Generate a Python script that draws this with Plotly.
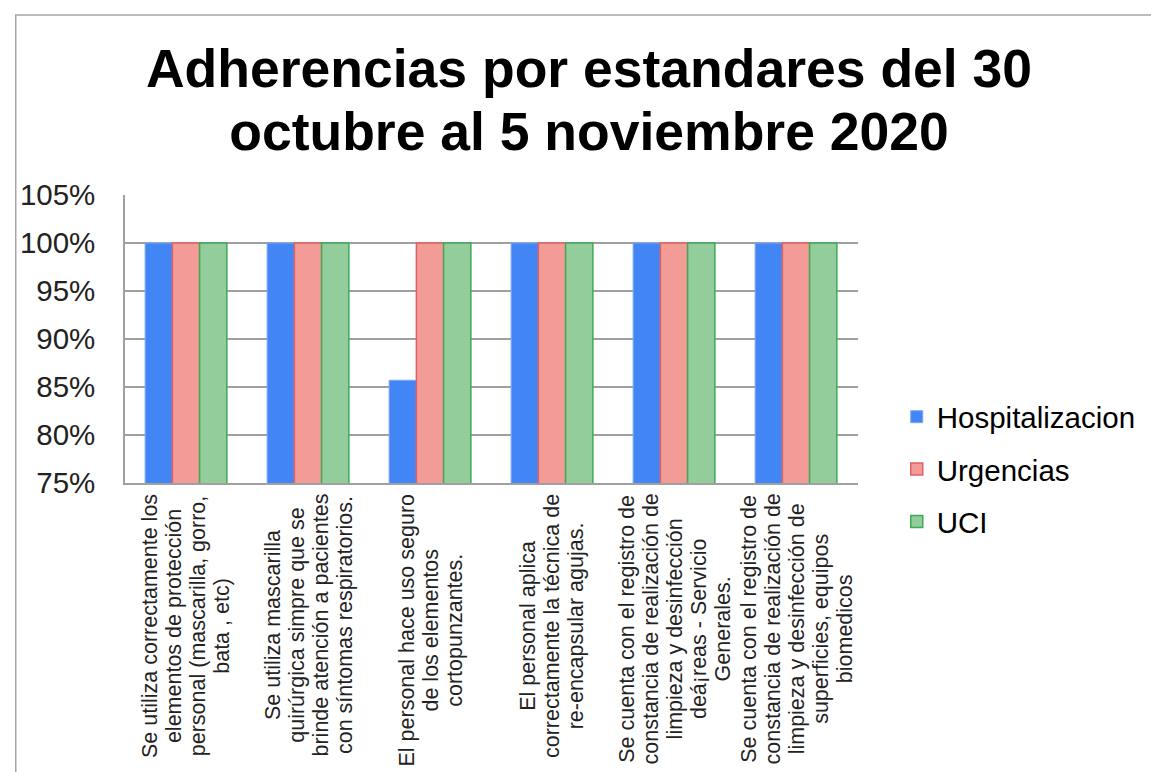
import plotly.graph_objects as go

categories = [
    "Se utiliza correctamente los<br>elementos de protección<br>personal (mascarilla, gorro,<br>bata , etc)",
    "Se utiliza mascarilla<br>quirúrgica simpre que se<br>brinde atención a pacientes<br>con síntomas respiratorios.",
    "El personal hace uso seguro<br>de los elementos<br>cortopunzantes.",
    "El personal aplica<br>correctamente la técnica de<br>re-encapsular agujas.",
    "Se cuenta con el registro de<br>constancia de realización de<br>limpieza y desinfección<br>deá¡reas - Servicio<br>Generales.",
    "Se cuenta con el registro de<br>constancia de realización de<br>limpieza y desinfección de<br>superficies, equipos<br>biomedicos",
]
cat_ids = ["c1", "c2", "c3", "c4", "c5", "c6"]

series_names = ["Hospitalizacion", "Urgencias", "UCI"]
hospitalizacion = [1.0, 1.0, 0.857, 1.0, 1.0, 1.0]
urgencias = [1.0, 1.0, 1.0, 1.0, 1.0, 1.0]
uci = [1.0, 1.0, 1.0, 1.0, 1.0, 1.0]

y_ticks = [0.75, 0.80, 0.85, 0.90, 0.95, 1.00, 1.05]

title_lines = ["Adherencias por estandares del 30", "octubre al 5 noviembre 2020"]

FONT = "Liberation Sans, Arial, sans-serif"


def sized(lines, px):
    return "<br>".join(f'<span style="font-size:{px}px">{t}</span>' for t in lines)


fig = go.Figure()
fig.add_trace(go.Bar(x=cat_ids, y=hospitalizacion, name=series_names[0],
                     marker=dict(color="#4285F4", line=dict(color="#7aa7f7", width=1)),
                     legendgroup="a"))
fig.add_trace(go.Bar(x=cat_ids, y=urgencias, name=series_names[1],
                     marker=dict(color="#F39C97", line=dict(color="#E06060", width=1.5)),
                     legendgroup="b"))
fig.add_trace(go.Bar(x=cat_ids, y=uci, name=series_names[2],
                     marker=dict(color="#93CD9C", line=dict(color="#3DAA55", width=1.5)),
                     legendgroup="c"))

# base font sets the line spacing (1.3em), span sets glyph size
for cid, label in zip(cat_ids, categories):
    fig.add_annotation(x=cid, y=0, xref="x", yref="paper",
                       text=sized(label.split("<br>"), 21.5),
                       textangle=-90, showarrow=False, xanchor="center", yanchor="top",
                       align="center", yshift=-9,
                       font=dict(family=FONT, size=18.5, color="#222222"))

# page body offset of 8px is accounted for
L, R, T, B = 112, 850, 187, 475
W, H = 1151, 764
fig.add_shape(type="rect", xref="paper", yref="paper",
              x0=(2 - L) / (R - L), x1=(1200 - L) / (R - L),
              y0=(B - 800) / (B - T), y1=(B - 7) / (B - T),
              line=dict(color="#a6a6a6", width=1.5), fillcolor="rgba(0,0,0,0)", layer="below")

fig.update_layout(
    width=W, height=H,
    margin=dict(l=L, r=W - R, t=T, b=H - B),
    paper_bgcolor="white", plot_bgcolor="white",
    barmode="group", bargap=0.33, bargroupgap=0,
    title=dict(text=sized(title_lines, 53.5),
               x=581 / W, xanchor="center", y=1 - 79 / H, yanchor="middle",
               yref="container", xref="container",
               font=dict(family=FONT, size=48.5, color="black", weight="bold")),
    legend=dict(x=(889 - L) / (R - L), xanchor="left", y=(B - 383) / (B - T), yanchor="top",
                font=dict(family=FONT, size=29.5, color="black"),
                tracegroupgap=11, itemwidth=30, bgcolor="rgba(0,0,0,0)"),
    showlegend=True,
    font=dict(family=FONT),
)
fig.update_xaxes(showticklabels=False, ticks="", showline=True, linecolor="#a0a0a0",
                 linewidth=1.5, showgrid=False, categoryorder="array", categoryarray=cat_ids)
fig.update_yaxes(range=[0.75, 1.05], tickvals=y_ticks, tickformat=".0%",
                 showgrid=True, gridcolor="#a0a0a0", gridwidth=1.5,
                 showline=True, linecolor="#a0a0a0", linewidth=1.5,
                 ticks="", ticklabelstandoff=22, zeroline=False,
                 tickfont=dict(family=FONT, size=29.5, color="#222222"))

fig.write_html("out.html")
